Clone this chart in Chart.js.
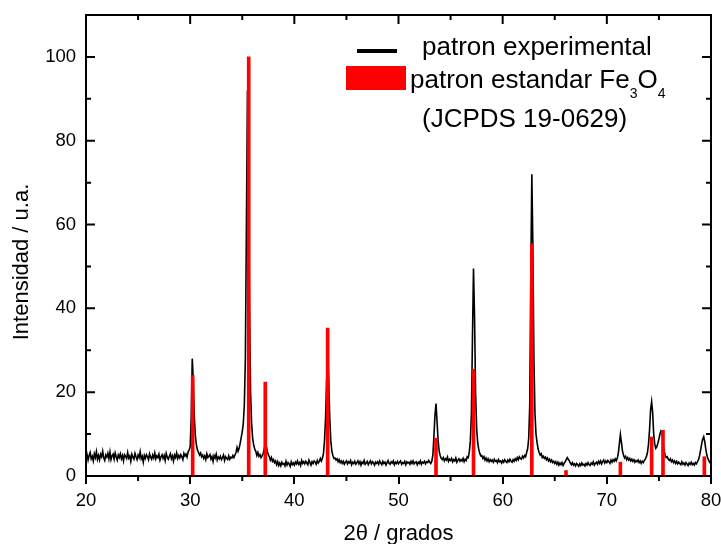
<!DOCTYPE html>
<html lang="es">

<head>
    <meta charset="UTF-8">
    <title>DRX Fe3O4</title>
    <script src="https://cdn.jsdelivr.net/npm/chart.js"></script>
    <style>
        body {
            margin: 0;
            background: #fff;
        }

        .wrap {
            position: relative;
            width: 721px;
            height: 544px;
        }

        canvas {
            position: absolute;
            left: 0;
            top: 0;
        }

        .lg {
            position: absolute;
            font-family: "Liberation Sans", Arial, sans-serif;
            font-size: 26px;
            line-height: 26px;
            white-space: nowrap;
            color: #000;
        }

        .sb {
            font-size: 14px;
            position: relative;
            top: 10px;
        }

        .sw {
            position: absolute;
        }
    </style>
</head>

<body>
    <div class="wrap">
        <canvas id="xrd" width="721" height="544"></canvas>
        <div class="sw" style="left:357px;top:49px;width:40px;height:4px;background:#000"></div>
        <div class="lg" style="left:422px;top:33px">patron experimental</div>
        <div class="sw" style="left:346px;top:66px;width:60px;height:24px;background:#ff0000"></div>
        <div class="lg" style="left:410px;top:66px">patron estandar Fe<span class="sb">3</span>O<span class="sb">4</span></div>
        <div class="lg" style="left:422px;top:105px">(JCPDS 19-0629)</div>
    </div>

    <script>
        // experimental pattern, 2theta from 20.0 to 80.0 every 0.1 deg (one row per degree)
        const expStart = 20;
        const expStep = 0.1;
        const expIntensity = [
            4.2, 5.1, 3.8, 4.9, 5.6, 4.1, 4.7, 3.6, 5.3, 4.4,
            5.8, 4.0, 4.9, 3.9, 5.2, 4.6, 5.9, 4.3, 3.7, 5.0,
            4.5, 5.4, 4.1, 5.7, 3.9, 4.8, 5.2, 4.0, 5.5, 4.6,
            3.8, 5.0, 4.4, 5.3, 4.1, 4.9, 3.6, 5.1, 4.7, 4.2,
            5.6, 4.3, 4.8, 3.5, 5.2, 4.5, 4.0, 5.4, 4.6, 3.9,
            5.0, 4.4, 5.8, 4.1, 4.7, 3.3, 4.9, 4.2, 5.1, 4.6,
            3.9, 5.3, 4.5, 4.0, 5.0, 4.3, 5.5, 4.1, 4.8, 4.4,
            5.2, 3.8, 4.6, 5.1, 4.2, 4.9, 3.7, 5.4, 4.5, 4.0,
            4.7, 5.3, 4.1, 4.8, 3.6, 5.0, 4.4, 5.5, 4.2, 4.9,
            4.3, 5.1, 4.6, 3.9, 5.4, 4.8, 5.2, 4.5, 5.7, 6.2,
            7.0, 14.0, 28.0, 23.0, 14.0, 9.5, 7.4, 6.2, 5.6, 5.0,
            5.5, 4.6, 5.0, 4.2, 4.8, 3.9, 5.3, 4.4, 4.7, 5.1,
            4.0, 4.6, 3.5, 4.9, 4.3, 5.2, 3.8, 4.5, 4.1, 4.7,
            3.9, 4.4, 5.0, 3.7, 4.6, 4.2, 3.9, 4.8, 4.0, 4.5,
            4.3, 4.9, 4.4, 5.0, 5.6, 6.8, 5.9, 6.6, 7.8, 9.2,
            10.5, 12.5, 17.0, 28.0, 60.0, 92.0, 78.0, 40.0, 20.0, 12.5,
            9.0, 7.4, 6.4, 5.9, 4.9, 5.6, 4.7, 5.1, 4.4, 4.8,
            5.3, 6.4, 7.5, 7.2, 6.0, 5.1, 4.6, 3.8, 4.4, 3.5,
            3.9, 3.2, 3.6, 2.7, 3.4, 2.5, 3.1, 2.4, 3.3, 2.8,
            3.0, 2.4, 3.5, 2.6, 3.2, 2.9, 2.3, 3.4, 2.7, 3.1,
            2.6, 3.3, 2.9, 3.6, 2.8, 3.2, 2.5, 3.7, 3.0, 3.4,
            2.9, 3.5, 3.1, 2.7, 3.8, 3.2, 2.6, 3.4, 3.0, 3.6,
            3.3, 2.8, 3.7, 3.1, 3.5, 4.2, 3.6, 4.3, 5.4, 8.5,
            14.0, 23.0, 29.5, 23.0, 14.0, 8.5, 6.0, 4.9, 4.2, 4.3,
            3.8, 4.1, 3.4, 3.9, 3.2, 3.6, 3.0, 3.5, 2.8, 3.3,
            3.6, 2.9, 3.4, 3.1, 3.7, 2.7, 3.3, 3.0, 3.5, 2.8,
            3.2, 3.6, 2.9, 3.4, 2.6, 3.3, 3.0, 3.7, 2.8, 3.1,
            3.5, 2.7, 3.2, 3.6, 2.9, 3.4, 3.1, 2.6, 3.3, 3.0,
            3.4, 2.8, 3.6, 3.1, 2.7, 3.5, 3.0, 3.3, 2.6, 3.2,
            3.7, 3.0, 2.8, 3.4, 3.1, 3.6, 2.7, 3.3, 3.0, 3.5,
            2.9, 3.3, 3.6, 2.8, 3.2, 3.0, 3.5, 2.7, 3.4, 3.1,
            3.3, 2.8, 3.5, 3.0, 3.6, 2.9, 3.2, 3.4, 2.7, 3.3,
            3.0, 3.6, 2.8, 3.3, 3.1, 3.5, 2.9, 3.4, 3.2, 3.7,
            3.3, 3.0, 3.6, 5.0, 9.5, 14.5, 17.3, 13.0, 8.5, 6.0,
            4.9, 4.2, 3.9, 4.4, 3.6, 4.1, 3.8, 4.5, 3.5, 4.0,
            3.7, 4.2, 3.4, 3.9, 3.6, 4.3, 3.3, 3.8, 4.1, 3.5,
            3.9, 3.6, 4.2, 3.4, 4.0, 3.7, 4.6, 4.4, 5.8, 8.5,
            15.0, 33.0, 49.5, 38.0, 20.0, 11.5, 8.0, 6.4, 5.4, 4.8,
            4.9, 4.2, 4.6, 3.8, 4.3, 3.6, 4.1, 3.4, 3.9, 3.5,
            3.8, 3.3, 4.0, 3.5, 3.7, 3.2, 3.9, 3.4, 3.6, 3.1,
            3.7, 3.3, 3.9, 3.5, 3.2, 3.8, 3.4, 4.0, 3.6, 3.3,
            3.9, 3.5, 4.1, 3.7, 4.4, 3.9, 4.6, 4.2, 4.0, 4.7,
            4.3, 4.9, 4.6, 5.6, 6.5, 9.0, 17.0, 48.0, 72.0, 55.0,
            28.0, 15.0, 10.0, 8.0, 6.5, 5.6, 5.0, 5.3, 4.4, 4.7,
            4.2, 4.5, 3.9, 4.3, 3.6, 4.0, 3.4, 3.8, 3.2, 3.5,
            3.0, 3.4, 2.8, 3.3, 2.6, 3.1, 2.7, 3.2, 2.5, 3.0,
            3.4, 3.9, 4.4, 4.0, 3.6, 3.1, 2.7, 3.2, 2.6, 2.9,
            2.4, 3.0, 2.7, 2.3, 2.9, 2.5, 3.1, 2.6, 2.8, 2.4,
            3.0, 2.6, 3.2, 2.7, 2.5, 3.1, 2.8, 3.4, 2.6, 3.0,
            3.3, 2.8, 3.5, 3.0, 3.6, 2.9, 3.4, 3.8, 3.1, 3.6,
            3.2, 3.7, 3.4, 3.0, 3.8, 3.3, 3.9, 3.5, 4.1, 3.6,
            4.2, 5.4, 7.6, 9.9, 8.0, 6.0, 5.0, 4.3, 4.7, 3.9,
            4.4, 3.8, 4.2, 3.6, 4.0, 3.5, 3.9, 3.3, 3.7, 3.4,
            3.8, 3.2, 3.6, 3.0, 3.5, 3.2, 3.7, 4.1, 4.6, 5.6,
            7.6, 11.0, 15.8, 17.7, 15.0, 10.0, 7.6, 6.6, 7.0, 7.8,
            8.8, 10.0, 10.7, 10.2, 8.0, 6.0, 5.0, 4.4, 4.6, 4.0,
            3.7, 4.1, 3.4, 3.8, 3.2, 3.6, 3.0, 3.5, 2.9, 3.3,
            3.0, 2.7, 3.4, 2.8, 3.1, 2.6, 3.2, 2.9, 2.5, 3.1,
            2.8, 3.3, 2.7, 3.0, 2.6, 3.2, 2.9, 3.4, 3.9, 4.8,
            6.2, 7.6, 8.8, 9.4, 8.2, 6.4, 5.0, 4.2, 3.6, 3.2,
            3.0
        ];

        // standard pattern Fe3O4 (JCPDS 19-0629)
        const stdAngles = [30.24, 35.62, 37.21, 43.2, 53.6, 57.2, 62.8, 66.08, 71.3, 74.3, 75.39, 79.36];
        const stdIntensity = [24, 100, 22.4, 35.3, 9, 25.5, 55.4, 1.3, 3.3, 9.3, 10.9, 4.6];

        const FONT = '"Liberation Sans", Arial, sans-serif';

        const expPoints = expIntensity.map((v, i) => ({ x: Math.round((expStart + i * expStep) * 10) / 10, y: v }));
        const stdPoints = stdAngles.map((a, i) => ({ x: a, y: stdIntensity[i] }));

        // box + ticks (inward on left/top/right, minor outward on bottom) + y title
        const framePlugin = {
            id: 'frame',
            afterDraw(chart) {
                const { ctx, chartArea: a, scales: { x, y } } = chart;
                ctx.save();
                ctx.strokeStyle = '#000';
                ctx.lineWidth = 2;
                ctx.strokeRect(a.left, a.top, a.right - a.left, a.bottom - a.top);
                ctx.beginPath();
                for (let v = 20; v <= 80; v += 5) {
                    const px = x.getPixelForValue(v);
                    const len = v % 10 === 0 ? 9 : 5;
                    ctx.moveTo(px, a.top);
                    ctx.lineTo(px, a.top + len);
                    if (v % 10 !== 0) {
                        ctx.moveTo(px, a.bottom);
                        ctx.lineTo(px, a.bottom + 5);
                    }
                }
                for (let v = 10; v <= 100; v += 10) {
                    const py = y.getPixelForValue(v);
                    const len = v % 20 === 0 ? 9 : 5;
                    ctx.moveTo(a.left, py);
                    ctx.lineTo(a.left + len, py);
                    ctx.moveTo(a.right, py);
                    ctx.lineTo(a.right - len, py);
                }
                ctx.stroke();

                ctx.translate(22, 262);
                ctx.rotate(-Math.PI / 2);
                ctx.fillStyle = '#000';
                ctx.font = '22px ' + FONT;
                ctx.textAlign = 'center';
                ctx.textBaseline = 'middle';
                ctx.fillText('Intensidad / u.a.', 0, 0);
                ctx.restore();
            }
        };

        new Chart(document.getElementById('xrd'), {
            type: 'line',
            data: {
                datasets: [{
                    type: 'bar',
                    label: 'patron estandar Fe3O4',
                    data: stdPoints,
                    backgroundColor: '#ff0000',
                    borderWidth: 0,
                    barThickness: 3,
                    order: 0
                }, {
                    type: 'line',
                    label: 'patron experimental',
                    data: expPoints,
                    borderColor: '#000',
                    borderWidth: 1.6,
                    pointRadius: 0,
                    tension: 0,
                    order: 1
                }]
            },
            options: {
                responsive: false,
                animation: false,
                devicePixelRatio: 1,
                layout: { padding: { top: 15, right: 10, left: 0, bottom: 0 } },
                plugins: {
                    legend: { display: false },
                    tooltip: { enabled: false }
                },
                scales: {
                    x: {
                        type: 'linear',
                        min: 20,
                        max: 80,
                        offset: false,
                        afterFit: s => {
                            s.height = 68;
                            s.paddingLeft = 0;
                            s.paddingRight = 0;
                        },
                        ticks: {
                            stepSize: 10,
                            padding: 6,
                            color: '#000',
                            font: { family: FONT, size: 18.5 }
                        },
                        grid: {
                            offset: false,
                            drawOnChartArea: false,
                            drawTicks: true,
                            tickLength: 8,
                            tickWidth: 2,
                            lineWidth: 2,
                            color: '#000'
                        },
                        border: { display: false },
                        title: {
                            display: true,
                            text: '2θ / grados',
                            color: '#000',
                            font: { family: FONT, size: 22, lineHeight: 0.9 },
                            padding: { top: 0, bottom: 0 }
                        }
                    },
                    y: {
                        min: 0,
                        max: 110,
                        afterFit: s => {
                            s.width = 86;
                            s.paddingTop = 0;
                            s.paddingBottom = 0;
                        },
                        ticks: {
                            stepSize: 20,
                            includeBounds: false,
                            padding: 10,
                            color: '#000',
                            font: { family: FONT, size: 18.5 }
                        },
                        grid: { display: false, drawTicks: false },
                        border: { display: false }
                    }
                }
            },
            plugins: [framePlugin]
        });
    </script>
</body>

</html>
